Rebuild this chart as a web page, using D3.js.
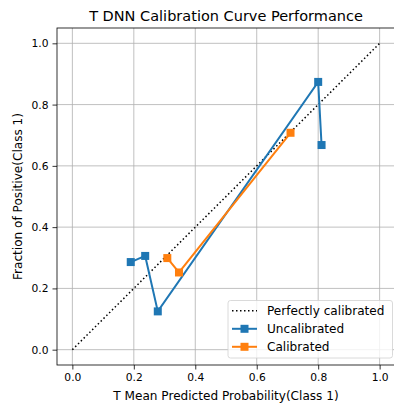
<!DOCTYPE html>
<html>
<head>
<meta charset="utf-8">
<script src="https://cdn.jsdelivr.net/npm/d3@7"></script>
<style>
  body { margin: 0; background: #fff; }
  svg { display: block; font-family: "DejaVu Sans", sans-serif; }
</style>
</head>
<body>
<svg id="chart" width="394" height="406"></svg>
<script>
'use strict';
// chart values
const uncalX = [0.19, 0.237, 0.278, 0.80, 0.811];
const uncalY = [0.286, 0.306, 0.125, 0.874, 0.668];
const calX = [0.309, 0.347, 0.710];
const calY = [0.299, 0.252, 0.708];
const perfect = [0, 1];
const ticks = [0, 0.2, 0.4, 0.6, 0.8, 1.0];
const legendNames = ['Perfectly calibrated', 'Uncalibrated', 'Calibrated'];

const blue = '#1f77b4';
const orange = '#ff7f0e';

const svg = d3.select('#chart');
const mLeft = 57, mRight = 395, mTop = 28, mBottom = 365;

const x = d3.scaleLinear().domain([-0.05, 1.05]).range([mLeft, mRight]);
const y = d3.scaleLinear().domain([-0.05, 1.05]).range([mBottom, mTop]);

// grid
const grid = svg.append('g');
grid.selectAll('line.gx')
  .data(ticks)
  .enter().append('line')
    .attr('x1', d => x(d)).attr('x2', d => x(d))
    .attr('y1', mTop).attr('y2', mBottom)
    .attr('stroke', '#b0b0b0').attr('stroke-width', 0.8);
grid.selectAll('line.gy')
  .data(ticks)
  .enter().append('line')
    .attr('y1', d => y(d)).attr('y2', d => y(d))
    .attr('x1', mLeft).attr('x2', mRight)
    .attr('stroke', '#b0b0b0').attr('stroke-width', 0.8);

// axes
const fmt = d3.format('.1f');
const xAxis = svg.append('g')
  .attr('transform', `translate(0,${mBottom})`)
  .call(d3.axisBottom(x).tickValues(ticks).tickFormat(fmt).tickSize(4.5).tickPadding(4));
const yAxis = svg.append('g')
  .attr('transform', `translate(${mLeft},0)`)
  .call(d3.axisLeft(y).tickValues(ticks).tickFormat(fmt).tickSize(4.5).tickPadding(4));
[xAxis, yAxis].forEach(a => {
  a.select('.domain').remove();
  a.selectAll('text').attr('font-size', 10.7).attr('fill', '#000')
    .attr('font-family', '"DejaVu Sans", sans-serif');
  a.selectAll('line').attr('stroke', '#000').attr('stroke-width', 0.8);
});

// perfectly calibrated diagonal
const line = d3.line().x(d => x(d[0])).y(d => y(d[1]));
svg.append('path')
  .datum(perfect.map(v => [v, v]))
  .attr('d', line)
  .attr('fill', 'none')
  .attr('stroke', '#000')
  .attr('stroke-width', 1.5)
  .attr('stroke-dasharray', '1.5,2.5');

const series = [
  { xs: uncalX, ys: uncalY, color: blue },
  { xs: calX, ys: calY, color: orange },
];
series.forEach(s => {
  const pts = s.xs.map((v, i) => [v, s.ys[i]]);
  svg.append('path')
    .datum(pts)
    .attr('d', line)
    .attr('fill', 'none')
    .attr('stroke', s.color)
    .attr('stroke-width', 2);
  svg.append('g').selectAll('rect')
    .data(pts)
    .enter().append('rect')
      .attr('x', d => x(d[0]) - 4)
      .attr('y', d => y(d[1]) - 4)
      .attr('width', 8).attr('height', 8)
      .attr('fill', s.color);
});

// frame
svg.append('rect')
  .attr('x', mLeft).attr('y', mTop)
  .attr('width', mRight - mLeft).attr('height', mBottom - mTop)
  .attr('fill', 'none').attr('stroke', '#000').attr('stroke-width', 0.8);

// title and labels
svg.append('text')
  .attr('x', (mLeft + mRight) / 2).attr('y', 21)
  .attr('text-anchor', 'middle')
  .attr('font-size', 14.5)
  .text('T DNN Calibration Curve Performance');
svg.append('text')
  .attr('x', (mLeft + mRight) / 2).attr('y', 400)
  .attr('text-anchor', 'middle')
  .attr('font-size', 12.1)
  .text('T Mean Predicted Probability(Class 1)');
svg.append('text')
  .attr('transform', `translate(21.5,${(mTop + mBottom) / 2}) rotate(-90)`)
  .attr('text-anchor', 'middle')
  .attr('font-size', 12.1)
  .text('Fraction of Positive(Class 1)');

// legend
const lg = svg.append('g').attr('transform', 'translate(228,300.5)');
lg.append('rect')
  .attr('width', 164.5).attr('height', 57.5).attr('rx', 2.5)
  .attr('fill', '#fff').attr('fill-opacity', 0.8)
  .attr('stroke', '#d0d0d0').attr('stroke-width', 0.8);
const legendStyles = [
  { color: '#000', dash: '1.5,2.5', marker: false },
  { color: blue, dash: null, marker: true },
  { color: orange, dash: null, marker: true },
];
legendNames.forEach((name, i) => {
  const cy = 10.3 + i * 18;
  const st = legendStyles[i];
  lg.append('line')
    .attr('x1', 4).attr('x2', 29).attr('y1', cy).attr('y2', cy)
    .attr('stroke', st.color).attr('stroke-width', st.marker ? 2 : 1.5)
    .attr('stroke-dasharray', st.dash);
  if (st.marker) {
    lg.append('rect')
      .attr('x', 12.5).attr('y', cy - 4).attr('width', 8).attr('height', 8)
      .attr('fill', st.color);
  }
  lg.append('text')
    .attr('x', 39).attr('y', cy + 4.4)
    .attr('font-size', 12.1)
    .text(name);
});
</script>
</body>
</html>
